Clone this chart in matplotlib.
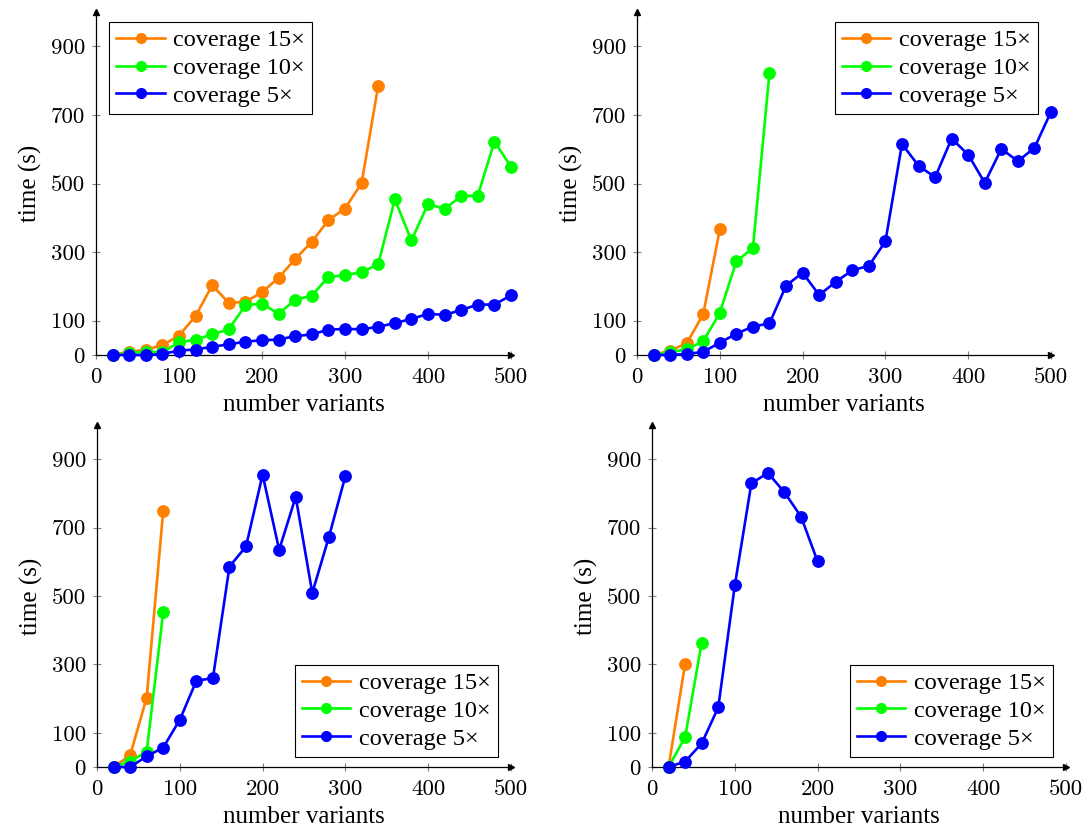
import matplotlib
matplotlib.use("Agg")
import matplotlib.pyplot as plt

# number of variants (x) shared by all panels, step 20
variants = list(range(20, 520, 20))

# panel 1 (top left)
p1_cov15 = [0, 10, 15, 29, 56, 114, 203, 152, 155, 183, 225, 280, 330, 393, 427, 501, 785]
p1_cov10 = [0, 5, 10, 8, 37, 45, 60, 75, 145, 150, 120, 161, 173, 228, 232, 242, 264,
            454, 334, 440, 426, 463, 465, 622, 549]
p1_cov5 = [0, 0, 0, 3, 13, 16, 24, 31, 39, 43, 45, 55, 60, 74, 76, 75, 82,
           93, 105, 120, 117, 131, 147, 147, 174]

# panel 2 (top right)
p2_cov15 = [0, 13, 34, 119, 366]
p2_cov10 = [0, 8, 17, 40, 123, 273, 312, 823]
p2_cov5 = [0, 0, 3, 9, 36, 62, 83, 92, 202, 240, 175, 213, 247, 260, 331,
           615, 552, 518, 631, 584, 502, 601, 565, 604, 709]

# panel 3 (bottom left)
p3_cov15 = [0, 34, 203, 750]
p3_cov10 = [0, 16, 45, 453]
p3_cov5 = [0, 0, 31, 57, 138, 252, 260, 586, 645, 855, 635, 790, 509, 672, 851]

# panel 4 (bottom right)
p4_cov15 = [0, 302]
p4_cov10 = [0, 87, 364]
p4_cov5 = [0, 16, 69, 174, 531, 829, 860, 803, 732, 601]

series_labels = ["coverage 15\u00d7", "coverage 10\u00d7", "coverage 5\u00d7"]
series_colors = ["#ff7f00", "#00ff00", "#0000ff"]
xticks = [0, 100, 200, 300, 400, 500]
yticks = [0, 100, 300, 500, 700, 900]

W, H = 1086, 827
TEXT_FONT = "Liberation Serif"
TICK_FONT = "cmr10"


def draw_panel(rect, data, legend_loc):
    left, top, right, bottom = rect
    ax = fig.add_axes([left / W, 1 - bottom / H, (right - left) / W, (bottom - top) / H])
    for values, label, color in zip(data, series_labels, series_colors):
        ax.plot(variants[:len(values)], values, color=color, linewidth=1.9,
                marker="o", markersize=8.2, label=label, clip_on=False, zorder=3)

    ax.set_xlim(0, 500)
    ax.set_ylim(0, 1000)
    ax.set_xticks(xticks)
    ax.set_yticks(yticks)
    ax.tick_params(direction="inout", length=6, width=0.8, color="#808080",
                   labelsize=16.5)
    ax.tick_params(axis="x", pad=6)
    ax.tick_params(axis="y", pad=5)
    for lab in ax.get_xticklabels() + ax.get_yticklabels():
        lab.set_fontfamily(TICK_FONT)

    for side in ("top", "right"):
        ax.spines[side].set_visible(False)
    for side in ("left", "bottom"):
        ax.spines[side].set_linewidth(0.9)
        ax.spines[side].set_color("black")
    # pgfplots-style arrow heads at the axis ends
    ax.plot(1, 0, marker=">", color="black", markersize=5, transform=ax.transAxes, clip_on=False)
    ax.plot(0, 1, marker="^", color="black", markersize=5, transform=ax.transAxes, clip_on=False)

    ax.set_xlabel("number variants", fontfamily=TEXT_FONT, fontsize=18)
    ax.set_ylabel("time (s)", fontfamily=TEXT_FONT, fontsize=18)
    ax.xaxis.set_label_coords(0.5, -0.115)
    ax.yaxis.set_label_coords(-0.13, 0.5)

    w_px, h_px = right - left, bottom - top
    dx, dy = 13 / w_px, 10 / h_px
    anchors = {
        "upper left": (dx, 1 - dy),
        "upper right": (1 - dx, 1 - dy),
        "lower right": (1 - dx, dy),
    }
    leg = ax.legend(loc=legend_loc, bbox_to_anchor=anchors[legend_loc], borderaxespad=0,
                    prop={"family": TEXT_FONT, "size": 17.5}, fancybox=False,
                    framealpha=1, edgecolor="black", handlelength=2.0,
                    handletextpad=0.35, labelspacing=0.24, borderpad=0.3)
    leg.get_frame().set_linewidth(0.8)
    for handle in leg.legend_handles:
        handle.set_markersize(7)
    return ax


fig = plt.figure(figsize=(W / 100, H / 100), dpi=100)

draw_panel((96, 12, 511, 355), [p1_cov15, p1_cov10, p1_cov5], "upper left")
draw_panel((637, 12, 1051, 355), [p2_cov15, p2_cov10, p2_cov5], "upper right")
draw_panel((97, 425, 511, 767), [p3_cov15, p3_cov10, p3_cov5], "lower right")
draw_panel((652, 425, 1066, 767), [p4_cov15, p4_cov10, p4_cov5], "lower right")

fig.savefig("out.png", dpi=100)
